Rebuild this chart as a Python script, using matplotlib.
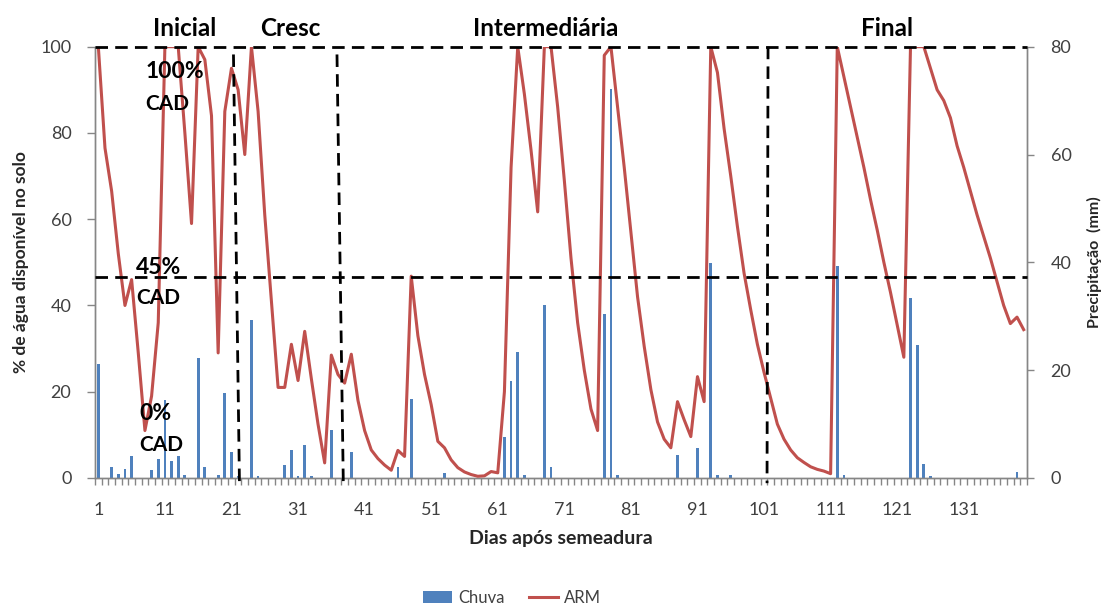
import matplotlib
matplotlib.use("Agg")
import matplotlib.pyplot as plt
from matplotlib.lines import Line2D
from matplotlib.patches import Patch
from matplotlib.ticker import FixedLocator

plt.rcParams['font.family'] = ['Lato', 'DejaVu Sans']

# ---- data -----------------------------------------------------------------
dias = list(range(1, 141))

# armazenamento de água no solo (% da CAD)
arm = [
    100, 76.5, 66.5, 52, 40, 46, 29, 11, 19, 36,            # 1-10
    100, 100, 100, 80, 59, 100, 97, 84, 29, 85,             # 11-20
    95, 90, 75, 100, 85, 61, 41, 21, 21, 31,                # 21-30
    22.6, 34, 23, 12.5, 3.5, 28.5, 24, 22, 28.7, 18,        # 31-40
    11, 6.5, 4.5, 3.0, 1.8, 6.4, 5.0, 46.8, 33, 24,         # 41-50
    17, 8.5, 7, 4.2, 2.4, 1.4, 0.8, 0.4, 0.5, 1.5,          # 51-60
    1.2, 20, 72, 100, 89, 76, 61.7, 100, 100, 86,           # 61-70
    69, 51, 36, 25, 16, 11, 98, 100, 86, 72,                # 71-80
    57, 42, 30.5, 20.5, 13, 9, 7, 17.7, 13.5, 9.6,          # 81-90
    23.5, 17.7, 100, 94, 81, 70, 58.3, 47.5, 39, 31,        # 91-100
    24.5, 18.5, 12.5, 9, 6.5, 4.7, 3.6, 2.6, 2.0, 1.6,      # 101-110
    1.0, 100, 93, 86, 79, 72, 64.5, 57.5, 50, 43,           # 111-120
    35.5, 28, 100, 100, 100, 95, 90, 87.5, 83.5, 77,        # 121-130
    72, 66.5, 61, 56, 51, 45.5, 40, 35.8, 37.3, 34.4,       # 131-140
]

# dias com chuva e lâmina precipitada (mm)
chuva_dias = [1, 3, 4, 5, 6, 9, 10, 11, 12, 13, 14, 16, 17, 19, 20, 21, 22,
              24, 25, 29, 30, 31, 32, 33, 36, 39, 46, 48, 53, 62, 63, 64, 65,
              68, 69, 77, 78, 79, 88, 91, 93, 94, 96, 112, 113, 123, 124,
              125, 126, 139]
chuva_mm = [21.2, 2.0, 0.8, 1.7, 4.0, 1.4, 3.6, 14.5, 3.2, 4.0, 0.5, 22.2,
            2.0, 0.5, 15.8, 4.8, 0.3, 29.3, 0.3, 2.4, 5.2, 0.3, 6.1, 0.3,
            8.9, 4.8, 2.1, 14.6, 0.9, 7.6, 17.9, 23.4, 0.6, 32.0, 2.1, 30.5,
            72.2, 0.6, 4.3, 5.5, 39.8, 0.5, 0.5, 39.4, 0.5, 33.3, 24.6, 2.6,
            0.3, 1.2]

x_rotulos = list(range(1, 141, 10))
y_esq = [0, 20, 40, 60, 80, 100]
y_dir = [0, 20, 40, 60, 80]

fases = ["Inicial", "Cresc", "Intermediária", "Final"]
limite_sup = 100          # 100% CAD
limite_cad = 46.7         # linha de 45% CAD
divisas = [(21.3, 22.2), (36.85, 37.8), (101.6, 101.45)]

# ---- figure ---------------------------------------------------------------
W, H = 1103, 610
fig = plt.figure(figsize=(W / 100, H / 100), dpi=100)


def fx(px):
    return px / W


def fy(py):
    return 1 - py / H


ax = fig.add_axes([fx(95), fy(478), (1027 - 95) / W, (478 - 46.7) / H])
ax2 = ax.twinx()
ax.set_zorder(ax2.get_zorder() + 1)
ax.patch.set_visible(False)

azul = '#4F81BD'
vermelho = '#C0504D'
cinza = '#868686'
texto = '#404040'

ax2.bar(chuva_dias, chuva_mm, width=0.42, color=azul, zorder=2)
ax.plot(dias, arm, color=vermelho, lw=2.2, solid_joinstyle='round', zorder=3)

ax.set_xlim(0.5, 140.5)
ax.set_ylim(0, 100)
ax2.set_ylim(0, 80)

# eixos
for a in (ax, ax2):
    a.spines['top'].set_visible(False)
    for s in ('left', 'right', 'bottom'):
        a.spines[s].set_color(cinza)
        a.spines[s].set_linewidth(1.0)

ax.set_yticks(y_esq)
ax2.set_yticks(y_dir)
ax.tick_params(axis='y', direction='out', length=6, width=1, color=cinza,
               labelsize=13, labelcolor=texto, pad=11)
ax2.tick_params(axis='y', direction='out', length=5, width=1, color=cinza,
                labelsize=13, labelcolor=texto, pad=12)

ax.xaxis.set_major_locator(FixedLocator(x_rotulos))
ax.set_xticklabels([str(v) for v in x_rotulos])
ax.xaxis.set_minor_locator(FixedLocator([d + 0.5 for d in range(0, 141)]))
ax.tick_params(axis='x', which='major', length=0, labelsize=13,
               labelcolor=texto, pad=17)
ax.tick_params(axis='x', which='minor', direction='out', length=5, width=1,
               color=cinza)
ax2.tick_params(axis='x', which='both', length=0)

ax.set_ylabel('% de água disponível no solo', fontsize=12.5,
              fontweight='bold', color='#262626', labelpad=8)
ax2.set_ylabel('Precipitação  (mm)', fontsize=11.5, fontweight='bold',
               color='#262626', labelpad=11)
ax.set_xlabel('Dias após semeadura', fontsize=14, fontweight='bold',
              color='#262626', labelpad=9)

# linhas de referência (CAD e fases)
traco = dict(color='black', lw=2.0, dashes=(4.5, 2.6), clip_on=False,
             zorder=4)
ax.plot([0.5, 140.5], [limite_sup, limite_sup], **traco)
ax.plot([0.5, 140.5], [limite_cad, limite_cad], **traco)
for (d_top, d_bot), y_top in zip(divisas, [98.2, 98.2, 100]):
    ax.plot([d_top, d_bot], [y_top, -1.2], **traco)

# rótulos das fases
for nome, px in zip(fases, [185, 290, 546, 887]):
    fig.text(fx(px), fy(29), nome, ha='center', va='center',
             fontsize=17.5, fontweight='bold', color='black')

# rótulos de CAD
cad = [("100%", 146, 71.7, 16.5), ("CAD", 145.5, 104.2, 15),
       ("45%", 136, 267.5, 16.5), ("CAD", 136, 298.3, 15),
       ("0%", 139.5, 413.3, 16.5), ("CAD", 139.5, 445, 15)]
for txt, px, py, fs in cad:
    fig.text(fx(px), fy(py), txt, ha='left', va='center', fontsize=fs,
             fontweight='bold', color='black', zorder=5)

# legenda
handles = [Patch(facecolor=azul, edgecolor='none', label='Chuva'),
           Line2D([0], [0], color=vermelho, lw=2.2, label='ARM')]
fig.legend(handles=handles, loc='center', bbox_to_anchor=(fx(512), fy(598)),
           ncol=2, frameon=False, fontsize=12, handlelength=1.7,
           handletextpad=0.36, columnspacing=1.5,
           labelcolor=texto)

fig.savefig('out.png', dpi=100)
